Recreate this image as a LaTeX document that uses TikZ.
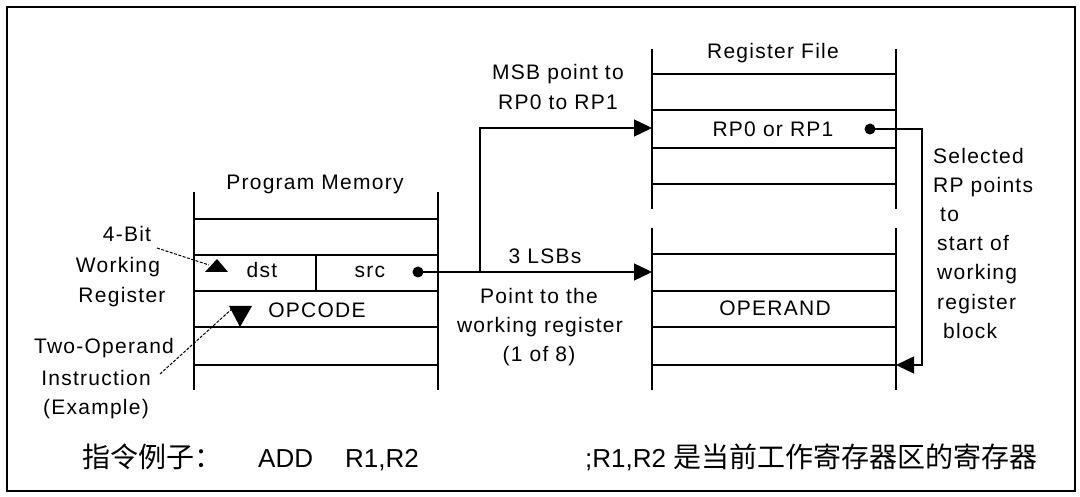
\documentclass[tikz,border=0pt]{standalone}
\usepackage{fontspec}
\setmainfont{Liberation Sans}
\newfontfamily\lbl[LetterSpace=6]{Liberation Sans}
\newfontfamily\cjk{Noto Sans CJK SC}
\newcommand{\cjkbig}[1]{{\cjk\fontsize{28}{30}\selectfont #1}}
\usetikzlibrary{arrows.meta}
\begin{document}
\begin{tikzpicture}[x=1pt,y=-1pt,
  lab/.style={font=\lbl\fontsize{21}{29}\selectfont, inner sep=0pt, anchor=base},
  labw/.style={lab, anchor=base west},
  reg/.style={line width=1.4pt},
  conn/.style={line width=1.4pt},
  arr/.style={conn,-{Triangle[length=18pt,width=17pt]}},
  hint/.style={line width=1pt, dash pattern=on 3pt off 1.5pt},
  dot/.style={circle, fill, inner sep=0pt, minimum size=11pt},
  big/.style={font=\fontsize{26}{30}\selectfont, inner sep=0pt, anchor=base west},
  frame/.style={line width=2.2pt}]
\useasboundingbox (0,0) rectangle (1080,497);
\draw[frame] (7,7) rectangle (1075,491);

% Program Memory
\draw[reg] (194,192) -- (194,390) (438,192) -- (438,390);
\foreach \y in {219,255,291,327,365} \draw[reg] (194,\y) -- (438,\y);
\draw[reg] (316,255) -- (316,291);
\node[lab] (pmtitle) at (315,190) {Program Memory};
\node[lab] (dst) at (262,278) {dst};
\node[lab] (src) at (370,278) {src};
\node[lab] (opcode) at (317,318) {OPCODE};

% Register File
\draw[reg] (652,49) -- (652,209) (896,49) -- (896,209);
\draw[reg] (652,228) -- (652,390) (896,228) -- (896,390);
\foreach \y in {74,110,148,184,254,291,327,365} \draw[reg] (652,\y) -- (896,\y);
\node[lab] (rftitle) at (773,59) {Register File};
\node[lab] (rp) at (773,137) {RP0 or RP1};
\node[lab] (operand) at (775,316) {OPERAND};

% middle labels
\node[lab] (msb1) at (558,80) {MSB point to};
\node[lab] (msb2) at (558,110) {RP0 to RP1};
\node[lab] (lsb) at (545,264) {3 LSBs};
\node[lab] (pt1) at (539,304) {Point to the};
\node[lab] (pt2) at (540,333) {working register};
\node[lab] (pt3) at (539,362) {(1 of 8)};

% left labels
\node[lab] (wb1) at (127,242) {4-Bit};
\node[lab] (wb2) at (118,273) {Working};
\node[lab] (wb3) at (122,303) {Register};
\node[lab] (to1) at (104,353) {Two-Operand};
\node[lab] (to2) at (96,385) {Instruction};
\node[lab] (to3) at (96,414) {(Example)};

% right labels
\node[labw] (sr1) at (933,164) {Selected};
\node[labw] (sr2) at (933,193) {RP points};
\node[labw] (sr3) at (940,222) {to};
\node[labw] (sr4) at (937,251) {start of};
\node[labw] (sr5) at (937,280) {working};
\node[labw] (sr6) at (937,309) {register};
\node[labw] (sr7) at (943,338) {block};

% connectors
\node[dot] (srcdot) at (418,272) {};
\coordinate (lsbin) at (652,272);
\coordinate (branch) at (480,272);
\coordinate (msbin) at (652,128);
\draw[arr] (srcdot.center) -- (lsbin);
\draw[arr] (branch) |- (msbin);

\node[dot] (rpdot) at (870,129) {};
\coordinate (rpturn) at (922,129);
\coordinate (wrin) at (896,365);
\draw[arr] (rpdot.center) -- (rpturn) |- (wrin);

% hint arrows
\coordinate (upt) at (217,259);
\coordinate (dnt) at (240,327);
\fill (205,272) -- (upt) -- (228,272) -- cycle;
\fill (229,306) -- (252,306) -- (dnt) -- cycle;
\coordinate (wbstart) at (157,248);
\coordinate (wbend) at (209,265);
\coordinate (tostart) at (160,374);
\coordinate (toend) at (234,307);
\draw[hint] (wbstart) -- (wbend);
\draw[hint] (tostart) -- (toend);

% bottom line
\node[big] (ex1) at (82,467) {\cjkbig{指令例子：}};
\node[big] (ex2) at (258,467) {ADD};
\node[big] (ex3) at (345,467) {R1,R2};
\node[big] (ex4) at (585,467) {;R1,R2 \cjkbig{是当前工作寄存器区的寄存器}};
\end{tikzpicture}
\end{document}
